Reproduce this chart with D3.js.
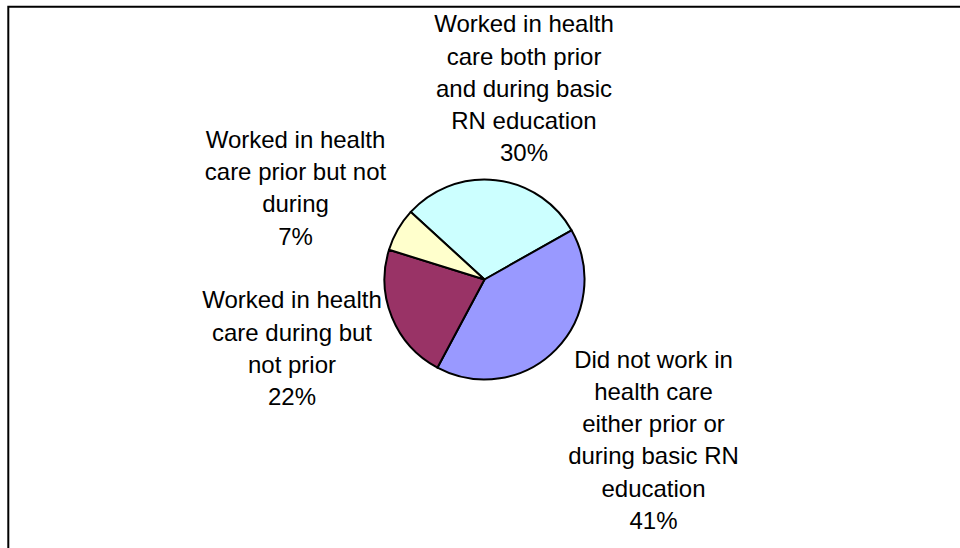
<!DOCTYPE html>
<html>
<head>
<meta charset="utf-8">
<script src="https://cdn.jsdelivr.net/npm/d3@7"></script>
<style>
  html, body { margin: 0; padding: 0; background: #fff; }
  svg { display: block; }
</style>
</head>
<body>
<div id="chart"></div>
<script>
// ---- data ----
const categories = [
  "Worked in health care both prior and during basic RN education",
  "Did not work in health care either prior or during basic RN education",
  "Worked in health care during but not prior",
  "Worked in health care prior but not during"
];
const values = [30, 41, 22, 7];
const labelLines = [
  ["Worked in health", "care both prior", "and during basic", "RN education"],
  ["Did not work in", "health care", "either prior or", "during basic RN", "education"],
  ["Worked in health", "care during but", "not prior"],
  ["Worked in health", "care prior but not", "during"]
];
const colors = ["#CCFFFF", "#9999FF", "#993366", "#FFFFCC"];

// ---- layout (not data) ----
const W = 960, H = 548;
const cx = 484.5, cy = 279.5, R = 100;
const startDeg = -47.5;
// label block centre offsets from pie centre
const labelOffsets = [[39.5, -182.7], [169, 168.8], [-192.5, 77.3], [-189, -83.2]];
const lineH = 32.3;
const fontSize = 24;

const svg = d3.select("#chart").append("svg")
  .attr("width", W).attr("height", H);

svg.append("rect").attr("width", W).attr("height", H).attr("fill", "#fff");

// frame (only top and left visible)
svg.append("path")
  .attr("d", `M8.3,${H + 5} L8.3,6.7 L${W + 5},6.7`)
  .attr("fill", "none").attr("stroke", "#000").attr("stroke-width", 2);

const pie = d3.pie().sort(null).value(d => d)
  .startAngle(startDeg * Math.PI / 180)
  .endAngle(startDeg * Math.PI / 180 + 2 * Math.PI);
const arcs = pie(values);
const arc = d3.arc().innerRadius(0).outerRadius(R);

const g = svg.append("g").attr("transform", `translate(${cx},${cy})`);
g.selectAll("path.slice").data(arcs).enter().append("path")
  .attr("class", "slice")
  .attr("d", arc)
  .attr("fill", (d, i) => colors[i])
  .attr("stroke", "#000")
  .attr("stroke-width", 2)
  .attr("stroke-linejoin", "round");

// labels
arcs.forEach((a, i) => {
  const lines = labelLines[i].concat([values[i] + "%"]);
  const [dx, dy] = labelOffsets[i];
  const n = lines.length;
  const firstBaseline = cy + dy - (n - 1) * lineH / 2;
  const t = svg.append("text")
    .attr("text-anchor", "middle")
    .attr("font-family", "Liberation Sans, Arial, sans-serif")
    .attr("font-size", fontSize)
    .attr("fill", "#000");
  lines.forEach((ln, k) => {
    t.append("tspan")
      .attr("x", cx + dx)
      .attr("y", firstBaseline + k * lineH)
      .text(ln);
  });
});
</script>
</body>
</html>
